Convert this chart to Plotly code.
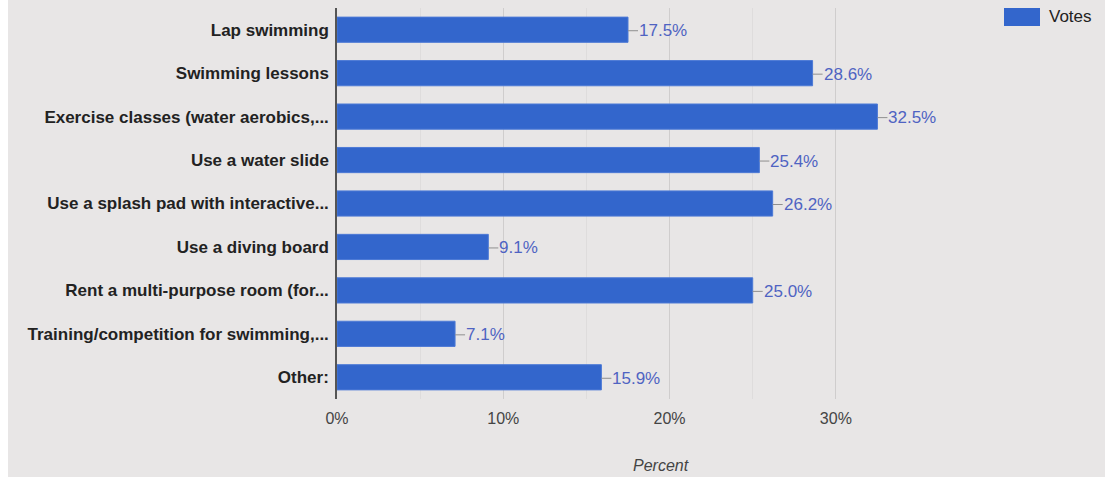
import plotly.graph_objects as go

# Survey responses: share of votes per pool activity
activities = [
    "Lap swimming",
    "Swimming lessons",
    "Exercise classes (water aerobics,...",
    "Use a water slide",
    "Use a splash pad with interactive...",
    "Use a diving board",
    "Rent a multi-purpose room (for...",
    "Training/competition for swimming,...",
    "Other:",
]
votes_pct = [17.5, 28.6, 32.5, 25.4, 26.2, 9.1, 25.0, 7.1, 15.9]
tick_vals = [0, 10, 20, 30]
tick_text = ["0%", "10%", "20%", "30%"]
series_name = "Votes"
axis_title = "Percent"

W, H = 1105, 477
ML, MR, MT, MB = 337, 186, 8, 78
BG = "#e8e6e6"
BAR = "#3366cc"
FONT = "Liberation Sans, Arial, sans-serif"

fig = go.Figure()
fig.add_trace(go.Bar(
    x=votes_pct,
    y=activities,
    orientation="h",
    name=series_name,
    marker=dict(color=BAR, line=dict(color="#4d7ad6", width=1)),
    showlegend=False,
    hoverinfo="x+y",
))

# value labels with short leader lines
for cat, v in zip(activities, votes_pct):
    fig.add_annotation(
        x=v, y=cat, xref="x", yref="y",
        text=f"{v:.1f}%",
        showarrow=True, arrowhead=0, arrowwidth=1, arrowcolor="#8f8f8f",
        ax=10, ay=0, xanchor="left", yshift=-1, standoff=0, startstandoff=0,
        borderpad=0,
        font=dict(family=FONT, size=17, color="#4f63c2"),
    )

pw = W - ML - MR
ph = H - MT - MB

# white strip along the left edge
fig.add_shape(type="rect", xref="paper", yref="paper",
              x0=-ML / pw, x1=(8 - ML) / pw, y0=-MB / ph - 0.1, y1=1 + MT / ph + 0.1,
              fillcolor="white", line=dict(width=0), layer="below")

# legend swatch and label
fig.add_shape(type="rect", xref="paper", yref="paper",
              x0=(1004 - ML) / pw, x1=(1040 - ML) / pw,
              y0=1 - (26 - MT) / ph, y1=1 - (8 - MT) / ph,
              fillcolor=BAR, line=dict(width=0))
fig.add_annotation(xref="paper", yref="paper",
                   x=(1047 - ML) / pw, y=1 - (17 - MT) / ph,
                   text=series_name, showarrow=False, xanchor="left", yanchor="middle",
                   font=dict(family=FONT, size=17, color="#222222"))

# axis title
fig.add_annotation(xref="paper", yref="paper",
                   x=(661 - ML) / pw, y=-(465 - MT - ph) / ph,
                   text=f"<i>{axis_title}</i>", showarrow=False,
                   xanchor="center", yanchor="middle",
                   font=dict(family=FONT, size=16, color="#444444"))

fig.update_layout(
    width=W, height=H,
    margin=dict(l=ML, r=MR, t=MT, b=MB, pad=0),
    paper_bgcolor=BG, plot_bgcolor=BG,
    bargap=0.42,
    font=dict(family=FONT),
    xaxis=dict(
        range=[0, 35],
        tickvals=tick_vals, ticktext=tick_text,
        showgrid=True, gridcolor="#cfcdcd", gridwidth=1,
        minor=dict(dtick=5, showgrid=True, gridcolor="#dedcdc", gridwidth=1),
        zeroline=False, showline=False,
        ticks="outside", ticklen=5, tickcolor="rgba(0,0,0,0)",
        tickfont=dict(family=FONT, size=16, color="#444444"),
        fixedrange=True,
    ),
    yaxis=dict(
        autorange="reversed",
        showgrid=False, zeroline=False,
        showline=True, linecolor="#555555", linewidth=1.5,
        ticks="outside", ticklen=3, tickcolor="rgba(0,0,0,0)",
        tickfont=dict(family=FONT, size=17, color="#222222", weight="bold"),
        fixedrange=True,
    ),
)

fig.write_html("out.html")
